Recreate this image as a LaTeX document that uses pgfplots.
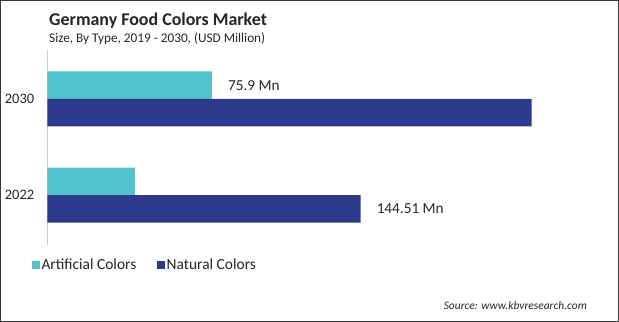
\documentclass[border=0pt]{standalone}
\usepackage{pgfplots}
\pgfplotsset{compat=1.18}
\usepackage{fontspec}
\setmainfont{Carlito}
\definecolor{art}{HTML}{52C3CD}
\definecolor{nat}{HTML}{2C3A8C}
\definecolor{frm}{HTML}{3A3A3A}
\definecolor{txt}{HTML}{262626}
\begin{document}
\begin{tikzpicture}
\draw[frm, line width=1.2bp] (0.6bp,0.6bp) rectangle (618.4bp,321.4bp);
\node[anchor=base west, inner sep=0pt, text=txt, font=\bfseries\fontsize{18}{20}\selectfont] at (49bp,296bp) {Germany Food Colors Market};
\node[anchor=base west, inner sep=0pt, text=txt, font=\fontsize{13.3}{15}\selectfont] at (49bp,279bp) {Size, By Type, 2019 - 2030, (USD Million)};
\node[anchor=base east, inner sep=0pt, text=txt, font=\itshape\fontsize{11.5}{13}\selectfont] at (587bp,13bp) {Source: www.kbvresearch.com};
\begin{axis}[
  at={(47.4bp,77bp)}, anchor=south west,
  scale only axis, width=552.6bp, height=195bp,
  xmin=0, xmax=255, ymin=-0.52, ymax=1.51,
  xbar, bar width=27.5bp,
  axis x line=none, axis y line*=left,
  y axis line style={-, draw=gray!40, line width=0.8bp},
  ytick={0,1}, yticklabels={2022,2030},
  major tick length=0pt,
  yticklabel style={anchor=east, inner sep=0pt, xshift=-13bp, text=txt, font=\fontsize{14.5}{16}\selectfont},
  point meta=explicit symbolic,
  nodes near coords,
  nodes near coords style={anchor=west, inner sep=0pt, xshift=16bp, text=txt, font=\fontsize{15.3}{17}\selectfont},
  legend columns=2,
  legend style={draw=none, fill=none, at={(-0.028,-0.1026)}, anchor=west, inner sep=0pt,
    font=\fontsize{15.5}{17}\selectfont, text=txt,
    /tikz/every even column/.append style={column sep=19bp}},
  legend image code/.code={\fill[#1, draw=none] (0bp,-3.8bp) rectangle (7.4bp,3.8bp);},
]
\addplot[fill=art, draw=none, bar shift=13.75bp] coordinates {(40.4,0) [] (75.9,1) [75.9 Mn]};
\addplot[fill=nat, draw=none, bar shift=-13.75bp] coordinates {(144.51,0) [144.51 Mn] (223.4,1) []};
\legend{Artificial Colors, Natural Colors}
\end{axis}
\end{tikzpicture}
\end{document}
